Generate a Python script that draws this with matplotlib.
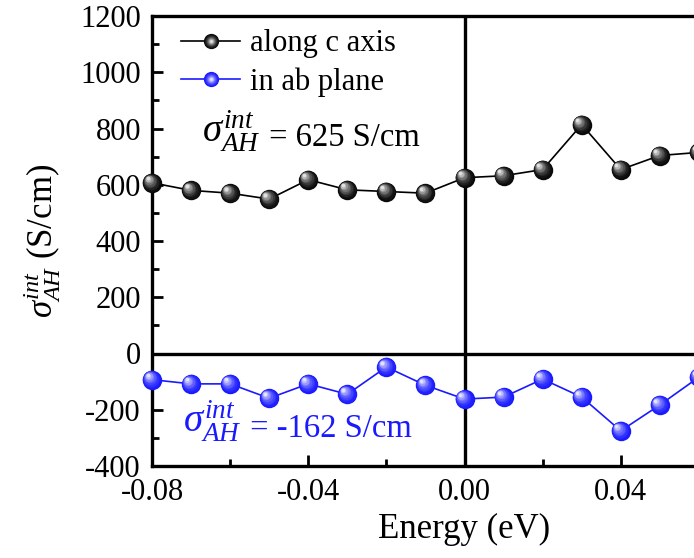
import numpy as np
import matplotlib
matplotlib.use("Agg")
import matplotlib.pyplot as plt
from matplotlib.transforms import ScaledTranslation
from matplotlib.lines import Line2D
from matplotlib.legend_handler import HandlerTuple
from matplotlib.colors import to_rgb

plt.rcParams["font.family"] = ["Liberation Serif", "DejaVu Serif"]
plt.rcParams["mathtext.fontset"] = "custom"
plt.rcParams["mathtext.rm"] = "Liberation Serif"
plt.rcParams["mathtext.it"] = "Liberation Serif:italic"
plt.rcParams["axes.unicode_minus"] = False

# Intrinsic anomalous Hall conductivity vs. energy
energy = [-0.08, -0.07, -0.06, -0.05, -0.04, -0.03, -0.02, -0.01,
          0.00, 0.01, 0.02, 0.03, 0.04, 0.05, 0.06]
sigma_c = [607, 580, 570, 549, 618, 582, 576, 570,
           625, 632, 654, 814, 654, 704, 715]
sigma_ab = [-93, -108, -108, -159, -108, -145, -48, -113,
            -162, -155, -91, -155, -275, -183, -84]

label_c = "along c axis"
label_ab = "in ab plane"
value_c = 625
value_ab = -162

xlim = (-0.08, 0.08)
ylim = (-400, 1200)
xticks = [-0.08, -0.04, 0.00, 0.04, 0.08]
xticklabels = ["-0.08", "-0.04", "0.00", "0.04", ""]

fig = plt.figure(figsize=(6.94, 5.58), dpi=100)
ax = fig.add_axes([152 / 694, 1 - 466 / 558, (777 - 152) / 694, (466 - 16) / 558])
ax.set_xlim(*xlim)
ax.set_ylim(*ylim)

BLUE = "#1a1aff"
MS = 14


def shaded_layers(base, ms):
    """Concentric marker layers giving a glossy sphere look."""
    base = np.array(to_rgb(base))
    fracs = np.linspace(1.0, 0.18, 9)
    out = []
    for i, f in enumerate(fracs):
        t = (i / (len(fracs) - 1)) ** 1.6 * 0.88
        col = base * (1 - t) + np.ones(3) * t
        shift = (1 - f) * ms * 0.28
        out.append((ms * f, tuple(col), shift))
    return out


def draw_balls(x, y, base, line_color, ms):
    ax.plot(x, y, "-", color=line_color, lw=1.2, zorder=3, clip_on=False)
    for size, col, shift in shaded_layers(base, ms):
        tr = ax.transData + ScaledTranslation(-shift / 72, shift / 72, fig.dpi_scale_trans)
        ax.plot(x, y, "o", ms=size, mfc=col, mec="none", transform=tr,
                zorder=4, clip_on=False)


draw_balls(energy, sigma_c, "#0a0a0a", "black", MS)
draw_balls(energy, sigma_ab, BLUE, BLUE, MS)

# zero reference lines
ax.axhline(0, color="black", lw=2.4, zorder=2)
ax.axvline(0, color="black", lw=2.4, zorder=2)

# axes styling
for s in ax.spines.values():
    s.set_linewidth(2.4)
ax.set_xticks(xticks)
ax.set_xticklabels(xticklabels)
ax.set_xticks([-0.06, -0.02, 0.02, 0.06], minor=True)
ax.set_yticks(np.arange(-400, 1201, 200))
ax.set_yticks(np.arange(-300, 1200, 200), minor=True)
ax.tick_params(which="both", direction="in", top=False, right=False,
               width=2.0, labelsize=22)
ax.tick_params(axis="y", which="major", pad=8)
ax.tick_params(axis="x", which="major", pad=9)
ax.tick_params(which="major", length=8)
ax.tick_params(which="minor", length=5)

ax.set_xlabel("Energy (eV)", fontsize=25, labelpad=4)
ax.set_ylabel(r"$\sigma^{int}_{AH}$ (S/cm)", fontsize=25, labelpad=12)


def legend_handle(base, line_color):
    parts = [Line2D([], [], color=line_color, lw=1.2)]
    for size, col, shift in shaded_layers(base, 11):
        parts.append(Line2D([], [], ls="none", marker="o", ms=size, mfc=col, mec="none"))
    return tuple(parts)


ax.legend([legend_handle("#0a0a0a", "black"), legend_handle(BLUE, BLUE)],
          [label_c, label_ab],
          handler_map={tuple: HandlerTuple(ndivide=1, pad=0)},
          loc="upper left", bbox_to_anchor=(0.046, 0.97), frameon=False,
          fontsize=22, handlelength=1.95, handletextpad=0.3, labelspacing=0.28,
          borderpad=0, borderaxespad=0)


def value_note(x, y, value, color):
    t1 = ax.text(x, y, r"$\sigma^{int}_{AH}$", fontsize=28, color=color,
                 transform=ax.transAxes, va="baseline", ha="left")
    ax.annotate(f" = {value} S/cm", xy=(1, 0), xycoords=t1, fontsize=23.5,
                color=color, va="bottom", ha="left",
                xytext=(0, 0), textcoords="offset points")
    return t1


value_note(0.08, 0.72, value_c, "black")
value_note(0.05, 0.075, value_ab, BLUE)

fig.savefig("out.png", dpi=100)
